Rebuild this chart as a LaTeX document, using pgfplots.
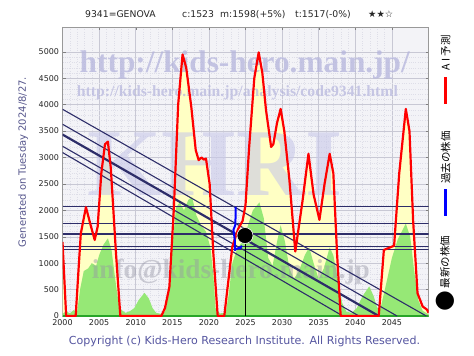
\documentclass[border=0pt]{standalone}
\usepackage{pgfplots}
\pgfplotsset{compat=1.18}
\usepackage{fontspec}
\setmainfont{DejaVu Sans}
\newfontfamily\cjk{Noto Sans CJK JP}
\newfontfamily\wmfont{Liberation Serif}
\newfontfamily\sym{DejaVu Sans}
\definecolor{navy}{RGB}{45,45,105}
\definecolor{yel}{RGB}{255,255,196}
\definecolor{grn}{RGB}{150,232,118}
\definecolor{grndark}{RGB}{40,165,40}
\definecolor{wm}{RGB}{180,180,220}
\definecolor{bgc}{RGB}{243,243,247}
\definecolor{slate}{RGB}{85,85,140}
\definecolor{copyc}{RGB}{85,85,160}
\pgfplotstableread{
x y
2000 1400
2000.5 0
2001.8 0
2002.2 900
2002.5 1560
2003.2 2060
2003.9 1690
2004.4 1440
2004.8 1690
2005.3 2700
2005.8 3250
2006.2 3300
2006.6 2800
2007.3 1200
2007.9 0
2013.5 0
2014.0 150
2014.6 550
2015.2 2000
2015.8 4000
2016.4 4950
2016.9 4700
2017.6 3950
2018.2 3140
2018.6 2950
2019.0 3000
2019.3 2960
2019.6 2980
2020.1 2500
2020.6 1200
2021.2 0
2022.1 0
2022.6 600
2023.2 1310
2024.0 1650
2024.6 1800
2025.0 2100
2025.5 3200
2026.2 4500
2026.8 4990
2027.3 4600
2027.8 3900
2028.2 3500
2028.5 3200
2028.8 3250
2029.3 3650
2029.8 3920
2030.3 3500
2031.0 2570
2031.8 1220
2032.8 2190
2033.6 3070
2034.3 2300
2035.1 1820
2035.8 2500
2036.5 3070
2037.0 2700
2037.5 1200
2038.0 0
2043.2 0
2043.9 1250
2044.6 1290
2045.3 1330
2046.0 2700
2046.9 3920
2047.4 3500
2047.9 1800
2048.5 430
2049.2 180
2049.8 120
2050 60
}\redtab
\pgfplotstableread{
x y
2000 40
2000.5 90
2001 50
2001.5 110
2002 80
2002.4 500
2002.9 850
2003.5 900
2004 1000
2004.6 950
2005 1150
2005.6 1350
2006.2 1470
2006.7 1250
2007.2 700
2007.6 300
2008 120
2008.6 60
2009.2 90
2009.8 150
2010.4 300
2011.2 440
2011.8 330
2012.3 150
2012.8 60
2013.5 40
2014 80
2014.5 400
2015 1300
2015.5 2050
2016 2150
2016.6 2000
2017.2 2200
2017.7 2250
2018.3 1900
2019 1700
2019.6 1600
2020.2 1300
2020.6 800
2020.9 150
2021.5 50
2022.3 60
2022.7 400
2023.2 1000
2023.8 1250
2024.5 1400
2025.3 1700
2026 2000
2026.9 2150
2027.5 1850
2028.1 1100
2028.7 950
2029.3 1400
2029.8 1720
2030.4 1400
2031 900
2031.6 700
2032.3 850
2033.1 1150
2033.7 1300
2034.3 1000
2035 700
2035.7 900
2036.5 1300
2037 1150
2037.6 700
2038.2 250
2038.8 80
2039.5 60
2040.2 150
2041 380
2041.9 560
2042.5 380
2043 150
2043.5 180
2044.2 600
2045 1100
2045.8 1450
2046.9 1750
2047.5 1500
2048 900
2048.6 300
2049.2 100
2050 30
}\greentab
\begin{document}
\begin{tikzpicture}[x=1bp,y=1bp]
\path[use as bounding box] (0,0) rectangle (474,355);
\fill[white] (0,0) rectangle (474,355);
\begin{axis}[
  at={(62.5bp,39bp)}, anchor=south west,
  scale only axis, width=366bp, height=289bp,
  xmin=2000, xmax=2050, ymin=0, ymax=5470,
  xtick={2000,2005,...,2045}, ytick={0,500,...,5000},
  minor x tick num=4, minor y tick num=4,
  grid=both,
  major grid style={draw={rgb,255:red,200;green,200;blue,212}, line width=0.5pt},
  minor grid style={draw={rgb,255:red,222;green,222;blue,232}, line width=0.3pt, dotted},
  axis background/.style={fill=bgc},
  axis line style={draw=gray!80},
  tick style={draw=gray, line width=0.4pt},
  major tick length=3bp, minor tick length=0bp,
  tick align=inside,
  scaled ticks=false,
  /pgf/number format/1000 sep={},
  /pgf/number format/assume math mode=true,
  ticklabel style={font=\fontsize{8}{9}\selectfont, text=black!85},
]
\addplot[fill=yel, draw=none] table {\redtab} \closedcycle;
\addplot[fill=grn, draw=none] table {\greentab} \closedcycle;
% watermarks
\node[text=wm, opacity=0.75] at (axis cs:2024.9,4745) {\resizebox{330bp}{!}{\wmfont\bfseries http://kids-hero.main.jp/}};
\node[text=wm, opacity=0.7] at (axis cs:2023.9,4234) {\resizebox{321bp}{!}{\wmfont\bfseries http://kids-hero.main.jp/analysis/code9341.html}};
\node[text={rgb,255:red,200;green,200;blue,232}, opacity=0.6] at (axis cs:2020.8,2870) {\resizebox{255bp}{!}{\wmfont\bfseries KHRI}};
\node[text={rgb,255:red,150;green,150;blue,165}, opacity=0.45] at (axis cs:2023,830) {\resizebox{278bp}{!}{\wmfont\bfseries info@kids-hero.main.jp}};
\addplot[draw=grndark, line width=2pt] coordinates {(2000,0) (2050,0)};
% horizontal lines
\addplot[navy, line width=1.2pt] coordinates {(2000,2066) (2050,2066)};
\addplot[navy, line width=1.1pt] coordinates {(2000,1755) (2050,1755)};
\addplot[navy, line width=2.4pt] coordinates {(2000,1550) (2050,1550)};
\addplot[navy, line width=1.2pt] coordinates {(2000,1320) (2050,1320)};
\addplot[navy, line width=1.2pt] coordinates {(2000,1265) (2050,1265)};
% diagonal lines
\addplot[navy, line width=1.1pt] coordinates {(2000,3913) (2049.7,0)};
\addplot[navy, line width=1.1pt] coordinates {(2000,3630) (2045.7,0)};
\addplot[navy, line width=2.2pt] coordinates {(2000,3435) (2043.2,0)};
\addplot[navy, line width=1.1pt] coordinates {(2000,3214) (2040.5,0)};
\addplot[navy, line width=1.1pt] coordinates {(2000,3094) (2038.3,0)};
% AI prediction
\addplot[red, line width=2.2pt, line join=round] table {\redtab};
% latest price marker line
\addplot[black, line width=0.8pt] coordinates {(2024.93,1523) (2024.93,0)};
% past price
\addplot[blue, line width=2pt, line join=round] coordinates {(2023.65,2066) (2023.65,1900) (2023.6,1720) (2023.35,1630) (2023.45,1530) (2023.55,1420) (2023.55,1250) (2023.9,1280) (2024.3,1290) (2024.5,1330)};
% latest price
\addplot[only marks, mark=*, mark size=8bp, mark options={fill=black, draw=white, line width=0.6pt}] coordinates {(2024.93,1523)};
\end{axis}
% title
\begin{scope}[every node/.style={anchor=base west, inner sep=0pt, text=black!85, font=\fontsize{9.3}{11}\selectfont}]
\node at (85,337.5) {9341=GENOVA};
\node at (182,337.5) {c:1523};
\node at (220,337.5) {m:1598(+5\%)};
\node at (295,337.5) {t:1517(-0\%)};
\node at (368,337.5) {\sym ★★☆};
\end{scope}
% left label
\node[rotate=90, text=slate, inner sep=0pt] at (23,193) {\resizebox{170bp}{!}{Generated on Tuesday 2024/8/27.}};
% copyright
\node[text=copyc, inner sep=0pt, anchor=base] at (244.5,10.5) {\resizebox{351bp}{!}{Copyright (c) Kids-Hero Research Institute. All Rights Reserved.}};
% legend
\node[rotate=90, inner sep=0pt, font=\fontsize{10.5}{12}\selectfont\cjk] at (445.7,285.5) {{\color{red}\rule[2.2bp]{27bp}{3.5bp}}\hspace{6bp}A I 予測};
\node[rotate=90, inner sep=0pt, font=\fontsize{10.5}{12}\selectfont\cjk] at (445.7,181.5) {{\color{blue}\rule[2.2bp]{27bp}{3.5bp}}\hspace{5bp}過去の株価};
\node[rotate=90, inner sep=0pt, font=\fontsize{10.5}{12}\selectfont\cjk] at (445.7,81.5) {\raisebox{-3bp}{\fontsize{24}{24}\selectfont\sym ●}\hspace{2bp}最新の株価};
\end{tikzpicture}
\end{document}
